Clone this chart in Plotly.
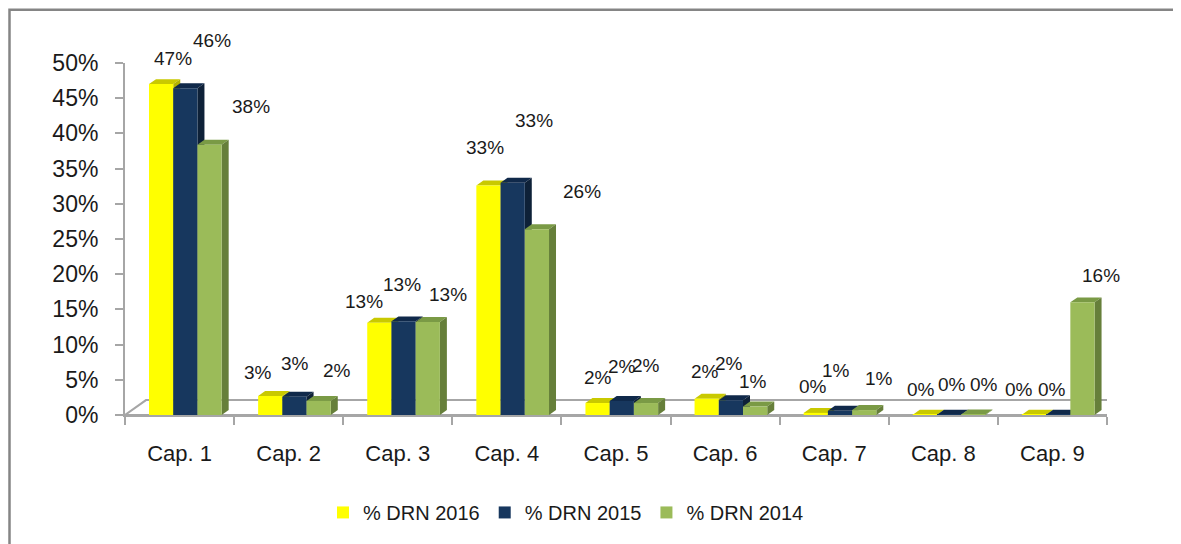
import plotly.graph_objects as go

# ---------------- data ----------------
categories = ["Cap. 1", "Cap. 2", "Cap. 3", "Cap. 4", "Cap. 5", "Cap. 6", "Cap. 7", "Cap. 8", "Cap. 9"]
drn_2016 = [0.470, 0.027, 0.131, 0.326, 0.017, 0.023, 0.003, 0.0005, 0.0005]
drn_2015 = [0.464, 0.026, 0.133, 0.330, 0.020, 0.021, 0.006, 0.0005, 0.0005]
drn_2014 = [0.384, 0.020, 0.132, 0.264, 0.017, 0.012, 0.007, 0.0008, 0.160]
series_names = ["% DRN 2016", "% DRN 2015", "% DRN 2014"]
y_tick_vals = [0, 0.05, 0.10, 0.15, 0.20, 0.25, 0.30, 0.35, 0.40, 0.45, 0.50]

# ---------------- styling ----------------
FONT = "Liberation Sans"
TXT = "#1a1a1a"
front_colors = ["#ffff00", "#17375e", "#9bbb59"]
top_colors = ["#c9c900", "#10294a", "#7a9a45"]
side_colors = ["#b3b300", "#0e2138", "#667f3a"]
bar_w = 0.222
offsets = [-0.28, -0.058, 0.164]

# page has an 8 px body margin; plot area in window px: x 125..1107, y 63..417
PAGE = 8
FIG_W, FIG_H = 1181 - PAGE, 544 - PAGE
PL, PR, PT, PB = 125, 1107, 63, 417
px_x = (PR - PL) / 9.0
px_y = (PB - PT) / 0.5
dx3 = 7 / px_x
dy3 = 5 / px_y

# label nudges in pixels (dx, dy) relative to bar front top centre
label_dx = [
    [12, -12, -15, -3, 0, -2, -3, -4, -15],
    [27, 1, -2, 21, 0, -2, -4, 3, -6],
    [41, 18, 20, 45, 0, -2, 15, 11, 19],
]
label_dy = [
    [26, 23, 21, 38, 26, 27, 26, 25, 25],
    [48, 33, 37, 62, 34, 37, 40, 30, 25],
    [38, 30, 28, 38, 38, 25, 32, 30, 27],
]

series = [drn_2016, drn_2015, drn_2014]
xs = list(range(len(categories)))

fig = go.Figure()
shapes = []
annotations = []

def paper_x(px):
    return (px - PL) / (PR - PL)

def paper_y(py):
    return (PB - py) / (PB - PT)

# chart frame (only top/left visible in the crop)
shapes.append(dict(type="rect", xref="paper", yref="paper",
                   x0=paper_x(9.5), x1=paper_x(1230),
                   y0=paper_y(600), y1=paper_y(9.5),
                   line=dict(color="#858585", width=2.5), fillcolor="rgba(0,0,0,0)", layer="below"))

# floor of the 3D plot
fdx = 21 / px_x
fdy = 15 / px_y
shapes.append(dict(type="path", xref="x", yref="y",
                   path=f"M -0.5,0 L {-0.5 + fdx},{fdy} L {8.5 + fdx},{fdy} L 8.5,0 Z",
                   line=dict(color="#a6a6a6", width=2), fillcolor="rgba(0,0,0,0)", layer="below"))

for si, vals in enumerate(series):
    o = offsets[si]
    fig.add_trace(go.Bar(
        x=xs, y=vals, name=series_names[si], width=bar_w, offset=o,
        marker=dict(color=front_colors[si], line=dict(width=0)),
        hoverinfo="skip",
    ))
    for j, v in zip(xs, vals):
        x0 = j + o
        x1 = x0 + bar_w
        # top face
        shapes.append(dict(type="path", xref="x", yref="y", layer="below",
                           path=f"M {x0},{v} L {x0 + dx3},{v + dy3} L {x1 + dx3},{v + dy3} L {x1},{v} Z",
                           fillcolor=top_colors[si], line=dict(width=0)))
        # side face
        shapes.append(dict(type="path", xref="x", yref="y", layer="below",
                           path=f"M {x1},0 L {x1 + dx3},{dy3} L {x1 + dx3},{v + dy3} L {x1},{v} Z",
                           fillcolor=side_colors[si], line=dict(width=0)))
        annotations.append(dict(
            x=x0 + bar_w / 2, y=v, xref="x", yref="y",
            text=f"{round(v * 100):.0f}%", showarrow=False,
            xanchor="center", yanchor="middle",
            xshift=label_dx[si][j], yshift=label_dy[si][j],
            font=dict(family=FONT, size=19, color=TXT),
        ))

fig.update_layout(
    width=FIG_W, height=FIG_H,
    margin=dict(l=PL - PAGE, r=FIG_W - (PR - PAGE), t=PT - PAGE, b=FIG_H - (PB - PAGE)),
    paper_bgcolor="white", plot_bgcolor="rgba(0,0,0,0)",
    barmode="overlay",
    showlegend=True,
    legend=dict(orientation="h", x=paper_x(566), xanchor="center", y=paper_y(515), yanchor="middle",
                font=dict(family=FONT, size=20, color=TXT), traceorder="normal"),
    shapes=shapes,
    annotations=annotations,
    font=dict(family=FONT, color=TXT),
)

fig.update_xaxes(
    range=[-0.5, 8.5], tickmode="array", tickvals=xs, ticktext=categories,
    ticks="outside", ticklen=18, tickcolor="rgba(0,0,0,0)",
    tickfont=dict(family=FONT, size=22, color=TXT),
    showline=True, linecolor="#a6a6a6", linewidth=2,
    showgrid=False, zeroline=False,
    minor=dict(tickmode="array", tickvals=[k - 0.5 for k in range(len(categories) + 1)],
               ticks="outside", ticklen=8, tickcolor="#a6a6a6", tickwidth=2, showgrid=False),
)
fig.update_yaxes(
    range=[0, 0.5], tickmode="array", tickvals=y_tick_vals, tickformat=".0%",
    ticks="outside", ticklen=8, tickcolor="#a6a6a6", tickwidth=2,
    tickfont=dict(family=FONT, size=23, color=TXT),
    showline=True, linecolor="#a6a6a6", linewidth=2,
    showgrid=False, zeroline=False, ticklabelstandoff=12,
)

fig.write_html("out.html")
